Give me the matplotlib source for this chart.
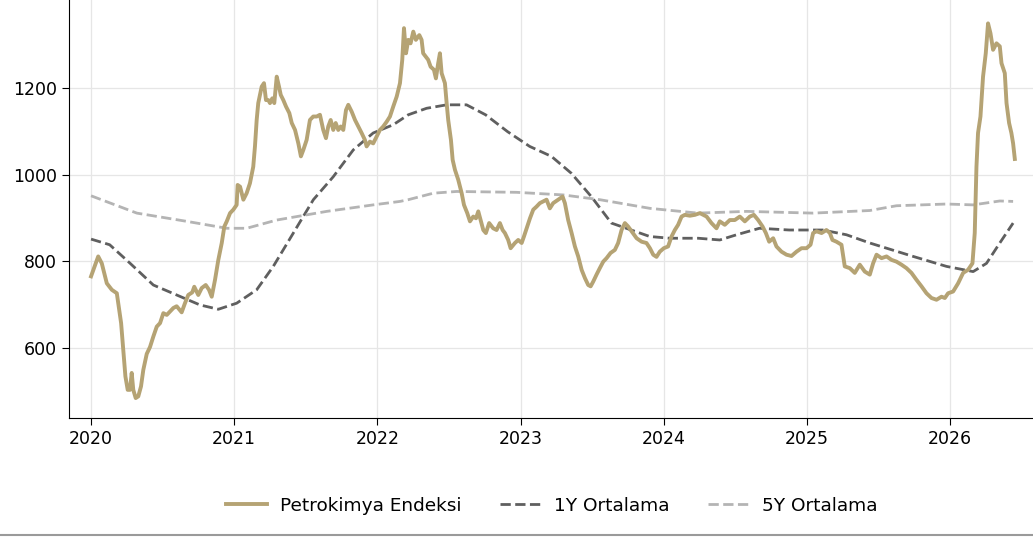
import matplotlib
matplotlib.use("Agg")
import matplotlib.pyplot as plt
from matplotlib.lines import Line2D

# Petrokimya endeksi (yil, deger)
endeks_yil = [
    2020.00, 2020.05, 2020.075, 2020.11, 2020.145, 2020.18, 2020.19, 2020.21, 2020.225, 2020.24,
    2020.256, 2020.272, 2020.284, 2020.295, 2020.312, 2020.33, 2020.349, 2020.365, 2020.389, 2020.412,
    2020.435, 2020.459, 2020.482, 2020.505, 2020.529, 2020.552, 2020.575, 2020.598, 2020.633, 2020.656,
    2020.679, 2020.707, 2020.721, 2020.749, 2020.773, 2020.801, 2020.824, 2020.843, 2020.866, 2020.889,
    2020.913, 2020.931, 2020.948, 2020.971, 2020.994, 2021.017, 2021.024, 2021.041, 2021.064, 2021.087,
    2021.110, 2021.133, 2021.145, 2021.157, 2021.168, 2021.192, 2021.208, 2021.222, 2021.238, 2021.25,
    2021.266, 2021.28, 2021.297, 2021.313, 2021.325, 2021.343, 2021.362, 2021.385, 2021.402, 2021.425,
    2021.448, 2021.466, 2021.483, 2021.506, 2021.529, 2021.552, 2021.576, 2021.599, 2021.622, 2021.641,
    2021.657, 2021.674, 2021.692, 2021.709, 2021.727, 2021.744, 2021.762, 2021.781, 2021.797, 2021.821,
    2021.844, 2021.867, 2021.890, 2021.913, 2021.925, 2021.948, 2021.971, 2021.995, 2022.018, 2022.041,
    2022.065, 2022.088, 2022.111, 2022.135, 2022.158, 2022.174, 2022.186, 2022.2, 2022.216, 2022.232,
    2022.251, 2022.269, 2022.293, 2022.309, 2022.32, 2022.339, 2022.355, 2022.372, 2022.395, 2022.409,
    2022.425, 2022.437, 2022.449, 2022.472, 2022.484, 2022.495, 2022.514, 2022.526, 2022.542, 2022.565,
    2022.589, 2022.605, 2022.628, 2022.647, 2022.670, 2022.689, 2022.705, 2022.721, 2022.740, 2022.758,
    2022.781, 2022.809, 2022.833, 2022.856, 2022.875, 2022.891, 2022.914, 2022.931, 2022.961, 2022.984,
    2023.008, 2023.024, 2023.043, 2023.066, 2023.089, 2023.112, 2023.135, 2023.159, 2023.182, 2023.205,
    2023.228, 2023.263, 2023.294, 2023.310, 2023.333, 2023.357, 2023.380, 2023.403, 2023.427, 2023.45,
    2023.473, 2023.490, 2023.508, 2023.531, 2023.554, 2023.578, 2023.601, 2023.629, 2023.659, 2023.682,
    2023.706, 2023.729, 2023.752, 2023.776, 2023.811, 2023.846, 2023.880, 2023.904, 2023.927, 2023.950,
    2023.973, 2024.001, 2024.031, 2024.055, 2024.078, 2024.101, 2024.125, 2024.148, 2024.183, 2024.218,
    2024.253, 2024.3, 2024.334, 2024.369, 2024.392, 2024.427, 2024.462, 2024.497, 2024.532, 2024.567,
    2024.602, 2024.630, 2024.660, 2024.691, 2024.714, 2024.737, 2024.765, 2024.788, 2024.823, 2024.858,
    2024.893, 2024.928, 2024.963, 2024.998, 2025.026, 2025.044, 2025.068, 2025.103, 2025.137, 2025.161,
    2025.179, 2025.207, 2025.242, 2025.265, 2025.3, 2025.335, 2025.370, 2025.405, 2025.440, 2025.463,
    2025.487, 2025.522, 2025.557, 2025.592, 2025.626, 2025.661, 2025.696, 2025.731, 2025.766, 2025.801,
    2025.836, 2025.871, 2025.906, 2025.941, 2025.964, 2025.987, 2026.022, 2026.057, 2026.092, 2026.126,
    2026.157, 2026.173, 2026.185, 2026.196, 2026.213, 2026.231, 2026.250, 2026.266, 2026.283, 2026.301,
    2026.325, 2026.348, 2026.360, 2026.383, 2026.395, 2026.413, 2026.429, 2026.441, 2026.453,
]
endeks_deger = [
    765, 811, 795, 749, 734, 726, 703, 657, 595, 534,
    503, 503, 542, 503, 484, 488, 511, 549, 586, 602,
    626, 649, 657, 680, 676, 684, 692, 696, 682, 703,
    722, 728, 741, 722, 738, 745, 734, 718, 757, 803,
    842, 880, 892, 911, 919, 930, 976, 972, 942, 957,
    980, 1018, 1065, 1126, 1165, 1203, 1211, 1172, 1172, 1165,
    1176, 1165, 1226, 1203, 1184, 1172, 1157, 1142, 1119, 1103,
    1072, 1042, 1057, 1080, 1126, 1134, 1134, 1138, 1103, 1084,
    1111, 1126, 1103, 1119, 1103, 1111, 1103, 1149, 1161, 1145,
    1126, 1111, 1096, 1080, 1065, 1076, 1072, 1088, 1103, 1111,
    1122, 1134, 1157, 1180, 1211, 1265, 1338, 1280, 1311, 1303,
    1330, 1311, 1322, 1311, 1280, 1272, 1265, 1249, 1242, 1222,
    1257, 1280, 1234, 1211, 1165, 1126, 1080, 1034, 1011, 988,
    957, 930, 911, 892, 903, 899, 915, 895, 872, 865,
    888, 876, 872, 888, 872, 865, 849, 830, 842, 849,
    842, 857, 876, 899, 919, 926, 934, 938, 942, 922,
    934, 942, 949, 934, 895, 865, 834, 811, 780, 761,
    745, 742, 753, 769, 784, 799, 807, 819, 826, 842,
    872, 888, 880, 869, 853, 845, 842, 830, 815, 810,
    822, 830, 834, 857, 872, 884, 903, 907, 905, 907,
    911, 903, 888, 876, 892, 884, 895, 895, 903, 892,
    903, 907, 895, 880, 865, 845, 853, 834, 822, 815,
    812, 822, 830, 830, 838, 865, 869, 865, 872, 865,
    849, 845, 838, 788, 784, 773, 792, 776, 769, 795,
    815, 807, 811, 803, 799, 792, 784, 773, 757, 742,
    726, 715, 711, 718, 715, 726, 730, 749, 773, 780,
    795, 865, 1018, 1096, 1134, 1226, 1280, 1349, 1326, 1288,
    1303, 1296, 1257, 1234, 1165, 1119, 1096, 1072, 1036,
]

# 1 yillik ortalama
ort1_yil = [2020.00, 2020.13, 2020.27, 2020.435, 2020.598, 2020.761, 2020.889, 2021.017, 2021.157,
            2021.273, 2021.413, 2021.553, 2021.692, 2021.832, 2021.971, 2022.111, 2022.216, 2022.344,
            2022.484, 2022.623, 2022.756, 2022.910, 2023.064, 2023.216, 2023.355, 2023.495, 2023.635,
            2023.903, 2024.043, 2024.241, 2024.392, 2024.509, 2024.669, 2024.878, 2025.111, 2025.277,
            2025.440, 2025.743, 2025.976, 2026.162, 2026.255, 2026.348, 2026.441]
ort1_deger = [851, 838, 796, 745, 722, 699, 689, 703, 734, 788, 865, 942, 995, 1057, 1096, 1115,
              1138, 1153, 1161, 1161, 1138, 1099, 1065, 1042, 1003, 949, 888, 857, 853, 853, 849,
              861, 876, 872, 872, 861, 842, 811, 788, 776, 795, 842, 888]

# 5 yillik ortalama
ort5_yil = [2020.00, 2020.32, 2020.668, 2020.948, 2021.087, 2021.297, 2021.646, 2021.971, 2022.158,
            2022.216, 2022.391, 2022.554, 2022.972, 2023.298, 2023.554, 2023.904, 2024.239, 2024.579,
            2025.044, 2025.440, 2025.626, 2025.976, 2026.162, 2026.348, 2026.441]
ort5_deger = [951, 911, 892, 876, 876, 895, 915, 930, 938, 942, 957, 961, 959, 953, 942, 922, 911,
              915, 911, 917, 928, 932, 930, 939, 938]

yil_etiket = [2020, 2021, 2022, 2023, 2024, 2025, 2026]
y_etiket = [600, 800, 1000, 1200]

fig = plt.figure(figsize=(10.33, 5.37), dpi=100)
ax = fig.add_axes([0.0668, 0.2216, 0.9332, 0.7784])

ax.plot(endeks_yil, endeks_deger, color='#b5a374', lw=2.8, label='Petrokimya Endeksi', zorder=3)
ax.plot(ort1_yil, ort1_deger, color='#5f5f5f', lw=2.0, ls='--', label='1Y Ortalama', zorder=2)
ax.plot(ort5_yil, ort5_deger, color='#b4b4b4', lw=2.0, ls='--', label='5Y Ortalama', zorder=2)

ax.set_xlim(2019.846, 2026.58)
ax.set_ylim(438, 1403)
ax.set_xticks(yil_etiket)
ax.set_xticklabels([str(y) for y in yil_etiket])
ax.set_yticks(y_etiket)
ax.tick_params(labelsize=12.5, length=5)
ax.grid(True, color='#e6e6e6', lw=0.9)
ax.set_axisbelow(True)
for s in ['top', 'right']:
    ax.spines[s].set_visible(False)

fig.legend(loc='center', bbox_to_anchor=(0.534, 0.058), ncol=3, frameon=False,
           fontsize=13.3, columnspacing=2.1, handlelength=2.2, handletextpad=0.7)

# alt kenar cizgisi
fig.add_artist(Line2D([0, 1], [0.003, 0.003], transform=fig.transFigure, color='#9a9a9a', lw=1.5))

plt.savefig('out.png', dpi=100)
